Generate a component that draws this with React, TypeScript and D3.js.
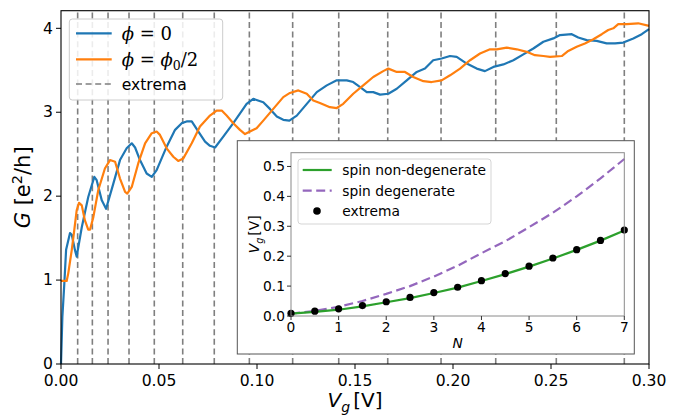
import React from 'react';
import * as d3 from 'd3';

// main panel: conductance vs gate voltage
const X_TICKS = [0, 0.05, 0.1, 0.15, 0.2, 0.25, 0.3];
const Y_TICKS = [0, 1, 2, 3, 4];

const phiZero: [number, number][] = [
  [0, 0], [0.0007, 0.56], [0.0017, 0.96], [0.0026, 1.36], [0.0046, 1.56], [0.0055, 1.54],
  [0.0071, 1.36], [0.008, 1.28], [0.0106, 1.63], [0.0139, 1.99], [0.017, 2.23], [0.0182, 2.19],
  [0.0208, 1.95], [0.023, 1.85], [0.0267, 2.15], [0.0301, 2.43], [0.0335, 2.57], [0.0361, 2.63],
  [0.0378, 2.58], [0.0403, 2.43], [0.0437, 2.27], [0.0463, 2.23], [0.0488, 2.31], [0.0539, 2.59],
  [0.0582, 2.79], [0.0616, 2.87], [0.0641, 2.89], [0.0667, 2.89], [0.0701, 2.77], [0.0735, 2.65],
  [0.076, 2.6], [0.0786, 2.58], [0.0828, 2.71], [0.0879, 2.87], [0.0918, 3.0], [0.0947, 3.1],
  [0.0981, 3.16], [0.1032, 3.12], [0.1066, 3.04], [0.1101, 2.95], [0.1134, 2.91], [0.1165, 2.9],
  [0.1203, 2.96], [0.1254, 3.1], [0.1305, 3.24], [0.1356, 3.32], [0.1407, 3.38], [0.1458, 3.38],
  [0.1491, 3.36], [0.1526, 3.3], [0.156, 3.24], [0.1593, 3.24], [0.1628, 3.21], [0.167, 3.22],
  [0.1713, 3.28], [0.1764, 3.38], [0.1815, 3.48], [0.1857, 3.52], [0.1899, 3.62], [0.1942, 3.64],
  [0.1985, 3.67], [0.2019, 3.66], [0.207, 3.58], [0.2121, 3.52], [0.2163, 3.49], [0.2206, 3.54],
  [0.2257, 3.57], [0.2308, 3.62], [0.2359, 3.69], [0.241, 3.76], [0.2461, 3.84], [0.2512, 3.88],
  [0.2546, 3.92], [0.2606, 3.93], [0.2639, 3.89], [0.2682, 3.86], [0.2733, 3.85], [0.2784, 3.82],
  [0.2827, 3.82], [0.2869, 3.83], [0.292, 3.88], [0.2963, 3.93], [0.3, 3.99],
];

const phiHalf: [number, number][] = [
  [0, 0.99], [0.0029, 0.99], [0.0037, 1.08], [0.0055, 1.36], [0.0068, 1.6], [0.008, 1.83],
  [0.0092, 1.92], [0.0106, 1.89], [0.0122, 1.71], [0.0139, 1.6], [0.0148, 1.6], [0.0165, 1.75],
  [0.019, 2.07], [0.0224, 2.33], [0.025, 2.43], [0.0276, 2.41], [0.0301, 2.21], [0.0327, 2.05],
  [0.0338, 2.03], [0.0361, 2.11], [0.0394, 2.39], [0.0429, 2.63], [0.0463, 2.75], [0.0488, 2.77],
  [0.0505, 2.73], [0.0539, 2.57], [0.0573, 2.47], [0.0598, 2.42], [0.0624, 2.45], [0.0667, 2.63],
  [0.0709, 2.83], [0.076, 2.96], [0.0794, 3.02], [0.082, 3.02], [0.0845, 2.96], [0.0879, 2.87],
  [0.0913, 2.79], [0.0939, 2.74], [0.0964, 2.77], [0.0998, 2.81], [0.1032, 2.9], [0.1083, 3.04],
  [0.1134, 3.18], [0.1168, 3.23], [0.1211, 3.26], [0.1254, 3.22], [0.1287, 3.14], [0.1321, 3.11],
  [0.1372, 3.06], [0.1407, 3.05], [0.144, 3.1], [0.1491, 3.22], [0.1542, 3.32], [0.1593, 3.42],
  [0.1644, 3.49], [0.167, 3.52], [0.1713, 3.48], [0.1755, 3.48], [0.1797, 3.42], [0.1849, 3.37],
  [0.1891, 3.36], [0.1942, 3.38], [0.1985, 3.44], [0.2036, 3.52], [0.2087, 3.62], [0.2138, 3.7],
  [0.2189, 3.75], [0.2223, 3.75], [0.2274, 3.77], [0.2325, 3.75], [0.2376, 3.72], [0.2418, 3.68],
  [0.2461, 3.67], [0.2495, 3.66], [0.2555, 3.67], [0.2588, 3.73], [0.2631, 3.78], [0.2673, 3.82],
  [0.2716, 3.87], [0.2759, 3.93], [0.2792, 3.98], [0.2818, 4.0], [0.2843, 4.05], [0.2886, 4.05],
  [0.2945, 4.06], [0.3, 4.03],
];

// gate voltages of the extrema (also the inset dots)
const extremaVg = [0.0085, 0.016, 0.024, 0.0347, 0.0476, 0.0621, 0.0782, 0.0961, 0.1182, 0.1417,
  0.1667, 0.1939, 0.2218, 0.2527, 0.2874];

// inset
const insetN = [0, 0.5, 1, 1.5, 2, 2.5, 3, 3.5, 4, 4.5, 5, 5.5, 6, 6.5, 7];
const nonDegenerate = [0.008, 0.014, 0.021, 0.032, 0.046, 0.06, 0.077, 0.095, 0.117, 0.14, 0.165,
  0.192, 0.221, 0.252, 0.286];
const degenerate = [0.008, 0.017, 0.031, 0.05, 0.074, 0.1, 0.132, 0.168, 0.21, 0.25, 0.297, 0.345,
  0.4, 0.46, 0.525];
const INSET_X_TICKS = [0, 1, 2, 3, 4, 5, 6, 7];
const INSET_Y_TICKS = [0, 0.1, 0.2, 0.3, 0.4, 0.5];

const W = 687;
const H = 418;
const FONT = 'DejaVu Sans';
const BLUE = '#1f77b4';
const ORANGE = '#ff7f0e';
const GREEN = '#2ca02c';
const PURPLE = '#9467bd';

const App = () => {
  const x = d3.scaleLinear().domain([0, 0.3]).range([61, 649]);
  const y = d3.scaleLinear().domain([0, 4.21]).range([364, 10.7]);
  const line = d3.line<[number, number]>().x(d => x(d[0])).y(d => y(d[1]));

  const ix = d3.scaleLinear().domain([0, 7]).range([291, 624.3]);
  const iy = d3.scaleLinear().domain([0, 0.546]).range([316, 152.7]);
  const iline = d3.line<number>().x((d, i) => ix(insetN[i])).y(d => iy(d));

  const [x0, x1] = x.range();
  const [y0, y1] = y.range();
  const [ix0, ix1] = ix.range();
  const [iy0, iy1] = iy.range();

  return (
    <svg width={W} height={H} style={{ position: 'absolute', left: 0, top: 0, background: '#fff' }}
      fontFamily={FONT}>
      {/* extrema */}
      {extremaVg.map((v, i) => (
        <line key={i} x1={x(v)} x2={x(v)} y1={y0} y2={y1}
          stroke="#7f7f7f" strokeWidth={1.6} strokeDasharray="6,3.6" />
      ))}
      <path d={line(phiZero) ?? ''} fill="none" stroke={BLUE} strokeWidth={2.2} strokeLinejoin="round" />
      <path d={line(phiHalf) ?? ''} fill="none" stroke={ORANGE} strokeWidth={2.2} strokeLinejoin="round" />

      {/* main axes */}
      <rect x={x0} y={y1} width={x1 - x0} height={y0 - y1} fill="none" stroke="#000" strokeWidth={1.1} />
      {X_TICKS.map(t => (
        <g key={t}>
          <line x1={x(t)} x2={x(t)} y1={y0} y2={y0 + 5} stroke="#000" />
          <text x={x(t)} y={386} fontSize={15.6} textAnchor="middle">{d3.format('.2f')(t)}</text>
        </g>
      ))}
      {Y_TICKS.map(t => (
        <g key={t}>
          <line x1={x0 - 5} x2={x0} y1={y(t)} y2={y(t)} stroke="#000" />
          <text x={x0 - 8} y={y(t) + 5.2} fontSize={15.6} textAnchor="end">{t}</text>
        </g>
      ))}
      <text x={(x0 + x1) / 2} y={407} fontSize={20} textAnchor="middle">
        <tspan fontStyle="italic">V</tspan>
        <tspan fontStyle="italic" fontSize={14} dy={4.5}>g</tspan>
        <tspan dy={-4.5} dx={3}>[V]</tspan>
      </text>
      <text transform={`translate(30,${(y0 + y1) / 2}) rotate(-90)`} fontSize={21} textAnchor="middle">
        <tspan fontStyle="italic">G</tspan>
        <tspan> [e</tspan>
        <tspan fontSize={14.5} dy={-8}>2</tspan>
        <tspan dy={8}>/h]</tspan>
      </text>

      {/* main legend */}
      <rect x={69.3} y={19} width={153.4} height={81} rx={3} fill="#fff" fillOpacity={0.85}
        stroke="#cccccc" />
      <line x1={76} x2={111.7} y1={33.3} y2={33.3} stroke={BLUE} strokeWidth={2.2} />
      <line x1={76} x2={111.7} y1={59.3} y2={59.3} stroke={ORANGE} strokeWidth={2.2} />
      <line x1={76} x2={111.7} y1={84} y2={84} stroke="#7f7f7f" strokeWidth={1.6} strokeDasharray="6,3.6" />
      <text x={121.7} y={39.5} fontSize={18} fontFamily="DejaVu Serif">
        <tspan fontStyle="italic">ϕ</tspan> = 0
      </text>
      <text x={121.7} y={65.5} fontSize={18} fontFamily="DejaVu Serif">
        <tspan fontStyle="italic">ϕ</tspan> = <tspan fontStyle="italic">ϕ</tspan>
        <tspan fontSize={12.5} dy={4}>0</tspan>
        <tspan dy={-4}>/2</tspan>
      </text>
      <text x={121.7} y={89.5} fontSize={15.6}>extrema</text>

      {/* inset */}
      <rect x={237.3} y={140.7} width={397} height={213.3} fill="#fff" stroke="#555" strokeWidth={1} />
      <path d={iline(degenerate) ?? ''} fill="none" stroke={PURPLE} strokeWidth={2.2} strokeDasharray="9,4.5" />
      <path d={iline(nonDegenerate) ?? ''} fill="none" stroke={GREEN} strokeWidth={2.2} />
      {extremaVg.map((v, i) => (
        <circle key={i} cx={ix(insetN[i])} cy={iy(v)} r={3.6} fill="#000" />
      ))}
      <rect x={ix0} y={iy1} width={ix1 - ix0} height={iy0 - iy1} fill="none" stroke="#8a8a8a" strokeWidth={1} />
      {INSET_X_TICKS.map(t => (
        <g key={t}>
          <line x1={ix(t)} x2={ix(t)} y1={iy0} y2={iy0 + 4} stroke="#333" />
          <text x={ix(t)} y={331.7} fontSize={13.8} textAnchor="middle">{t}</text>
        </g>
      ))}
      {INSET_Y_TICKS.map(t => (
        <g key={t}>
          <line x1={ix0 - 4} x2={ix0} y1={iy(t)} y2={iy(t)} stroke="#333" />
          <text x={ix0 - 6} y={iy(t) + 5} fontSize={13.8} textAnchor="end">{d3.format('.1f')(t)}</text>
        </g>
      ))}
      <text x={(ix0 + ix1) / 2} y={348} fontSize={13.8} textAnchor="middle" fontStyle="italic">N</text>
      <text transform={`translate(259,${(iy0 + iy1) / 2}) rotate(-90)`} fontSize={13.8} textAnchor="middle">
        <tspan fontStyle="italic">V</tspan>
        <tspan fontStyle="italic" fontSize={9.7} dy={3.5}>g</tspan>
        <tspan dy={-3.5} dx={2}>[V]</tspan>
      </text>

      {/* inset legend */}
      <rect x={298} y={159} width={193} height={65} rx={3} fill="#fff" fillOpacity={0.85} stroke="#d5d5d5" />
      <line x1={302.7} x2={331.7} y1={170} y2={170} stroke={GREEN} strokeWidth={2.2} />
      <line x1={302.7} x2={331.7} y1={190.7} y2={190.7} stroke={PURPLE} strokeWidth={2.2} strokeDasharray="9,4.5" />
      <circle cx={317} cy={211} r={3.8} fill="#000" />
      <text x={342.3} y={175} fontSize={13.8}>spin non-degenerate</text>
      <text x={342.3} y={195.7} fontSize={13.8}>spin degenerate</text>
      <text x={342.3} y={216} fontSize={13.8}>extrema</text>
    </svg>
  );
};

export default App;
